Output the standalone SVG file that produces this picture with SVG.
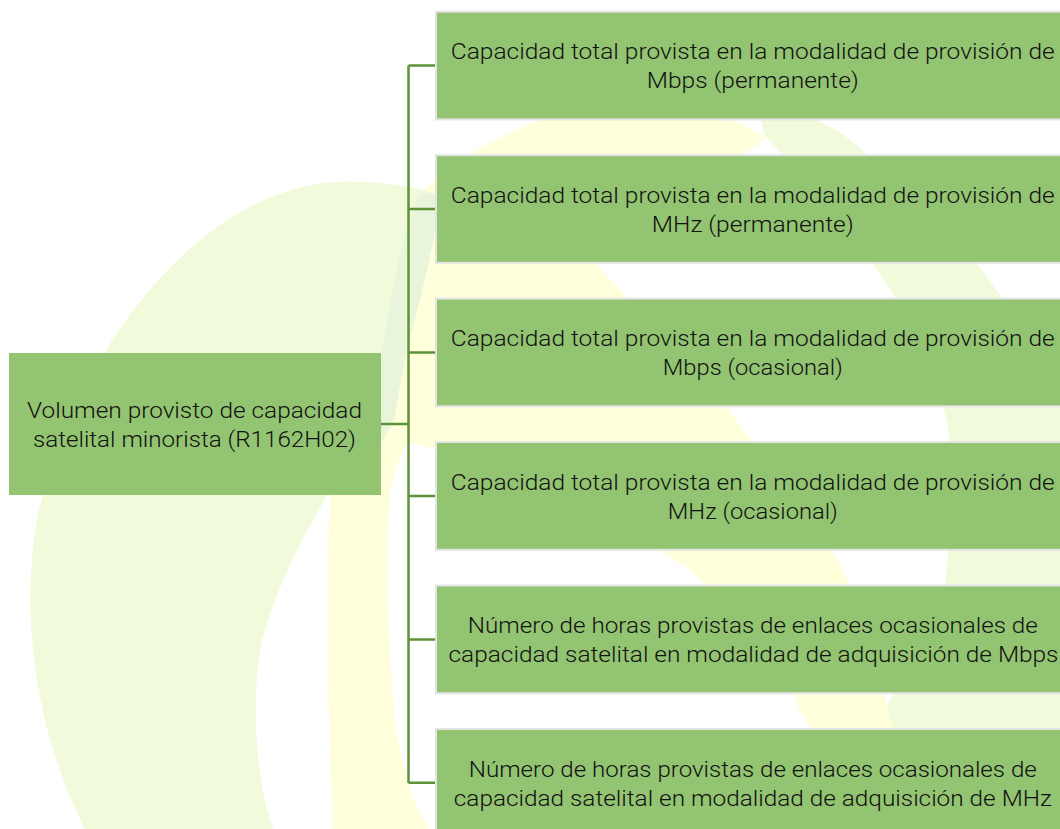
<svg xmlns="http://www.w3.org/2000/svg" width="1060" height="829" viewBox="0 0 1060 829">
<style>
.box{fill:#93C472;stroke:#E4E4E4;stroke-width:2}
.root{fill:#93C472}
.t{font-family:Roboto,"Liberation Sans",sans-serif;font-weight:300;font-size:21.5px;fill:#111111;text-anchor:middle}
.conn{fill:none;stroke:#5E9238;stroke-width:2.5}
</style>
<rect width="1060" height="829" fill="#FFFFFF"/>
<g id="watermark">
<path fill="#F2FADC" d="M760 100 C800 110 830 125 846 137 C900 180 960 240 989 280 C1010 310 1040 350 1060 380 L1060 829 L870 829 C875 780 880 740 884 710 C910 670 945 620 947 567 C950 520 952 470 948 425 C935 370 910 320 884 280 C850 230 800 170 766 137 C760 120 758 110 760 100 Z"/>
<path fill="#FFFFDC" d="M540 120 C580 95 700 95 766 137 C720 175 640 220 594 263 C640 310 700 370 727 407 C760 455 810 520 833 553 C860 600 880 660 884 693 C895 740 915 790 925 829 L333 829 C328 720 326 600 330 495 C340 470 360 440 372 415 C385 330 400 240 416 200 C440 170 480 145 540 120 Z"/>
<path fill="#FFFFFF" d="M408 442 C470 455 600 510 686 567 C740 610 790 680 800 710 C830 760 855 800 865 829 L430 829 C410 800 400 760 395 720 C388 650 385 560 390 490 C395 470 400 455 408 442 Z"/>
<path fill="#F2FADC" d="M85 829 C40 740 25 640 32 560 C40 420 170 190 338 182 C375 181 410 185 440 195 C438 230 420 300 411 333 C402 370 398 400 395 415 C385 450 350 470 330 490 C300 542 270 600 260 650 C252 700 255 780 273 829 Z"/>
<path fill="#E8F5DA" d="M425 193 L440 195 C438 230 420 300 411 333 C402 370 398 400 395 415 C385 450 350 470 335 485 C345 460 360 440 372 415 C385 330 400 240 416 200 Z"/>
</g>
<g id="connectors">
<path class="conn" d="M381 424 H408.5 M408.5 65.5 V783 M408.5 65.5 H436 M408.5 209 H436 M408.5 352.5 H436 M408.5 496 H436 M408.5 639.4 H436 M408.5 782.8 H436"/>
</g>
<g id="root">
<rect class="root" x="9" y="353" width="372" height="142"/>
<text class="t" x="194.5" y="417.8" textLength="335" lengthAdjust="spacingAndGlyphs">Volumen provisto de capacidad</text>
<text class="t" x="194.5" y="446.8" textLength="323" lengthAdjust="spacingAndGlyphs">satelital minorista (R1162H02)</text>
</g>
<g id="n1">
<rect class="box" x="436" y="11.7" width="640" height="107.7"/>
<text class="t" x="752.8" y="59.3" textLength="604" lengthAdjust="spacingAndGlyphs">Capacidad total provista en la modalidad de provisión de</text>
<text class="t" x="752.8" y="88.3" textLength="212" lengthAdjust="spacingAndGlyphs">Mbps (permanente)</text>
</g>
<g id="n2">
<rect class="box" x="436" y="155.2" width="640" height="107.7"/>
<text class="t" x="752.8" y="202.8" textLength="604" lengthAdjust="spacingAndGlyphs">Capacidad total provista en la modalidad de provisión de</text>
<text class="t" x="752.8" y="231.8" textLength="202" lengthAdjust="spacingAndGlyphs">MHz (permanente)</text>
</g>
<g id="n3">
<rect class="box" x="436" y="298.6" width="640" height="107.7"/>
<text class="t" x="752.8" y="346.2" textLength="604" lengthAdjust="spacingAndGlyphs">Capacidad total provista en la modalidad de provisión de</text>
<text class="t" x="752.8" y="375.2" textLength="180" lengthAdjust="spacingAndGlyphs">Mbps (ocasional)</text>
</g>
<g id="n4">
<rect class="box" x="436" y="442.1" width="640" height="107.7"/>
<text class="t" x="752.8" y="489.7" textLength="604" lengthAdjust="spacingAndGlyphs">Capacidad total provista en la modalidad de provisión de</text>
<text class="t" x="752.8" y="518.7" textLength="170" lengthAdjust="spacingAndGlyphs">MHz (ocasional)</text>
</g>
<g id="n5">
<rect class="box" x="436" y="585.5" width="640" height="107.7"/>
<text class="t" x="752.8" y="633.1" textLength="570" lengthAdjust="spacingAndGlyphs">Número de horas provistas de enlaces ocasionales de</text>
<text class="t" x="753.5" y="662.1" textLength="610" lengthAdjust="spacingAndGlyphs">capacidad satelital en modalidad de adquisición de Mbps</text>
</g>
<g id="n6">
<rect class="box" x="436" y="729" width="640" height="107.7"/>
<text class="t" x="752.8" y="776.5" textLength="568" lengthAdjust="spacingAndGlyphs">Número de horas provistas de enlaces ocasionales de</text>
<text class="t" x="752.8" y="805.5" textLength="598" lengthAdjust="spacingAndGlyphs">capacidad satelital en modalidad de adquisición de MHz</text>
</g>
</svg>
